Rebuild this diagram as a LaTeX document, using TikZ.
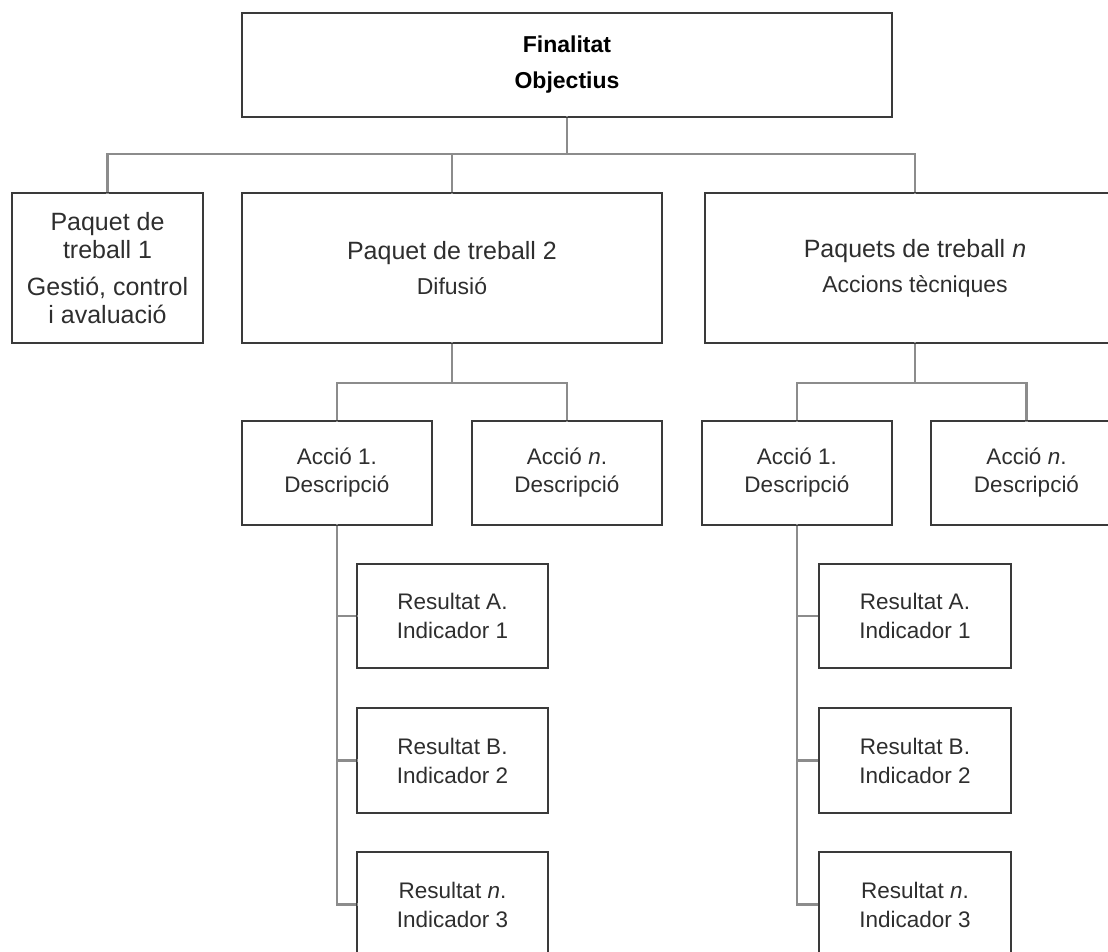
\documentclass[tikz,border=0pt]{standalone}
\usepackage{fontspec}
\setmainfont{Liberation Sans}
\definecolor{linec}{HTML}{8C8C8C}
\definecolor{boxc}{HTML}{3A3A3A}
\definecolor{txtc}{HTML}{2E2E2E}
\begin{document}
\begin{tikzpicture}[x=1pt,y=-1pt,
  box/.style={draw=boxc, line width=1.4pt, rectangle, inner sep=0pt, align=center, text=txtc},
  topbox/.style={box, minimum width=650pt, minimum height=104pt, text=black,
     font=\fontsize{23}{36}\selectfont\bfseries},
  pkbox/.style={box, minimum height=150pt, font=\fontsize{25}{28}\selectfont},
  actbox/.style={box, minimum width=190pt, minimum height=104pt, font=\fontsize{22.5}{28}\selectfont},
  resbox/.style={box, minimum width=191pt, minimum height=104pt, font=\fontsize{22.5}{29}\selectfont},
  conn/.style={draw=linec, line width=2.6pt, line cap=rect, line join=miter}]
\useasboundingbox (0,0) rectangle (1108,952);
\clip (0,0) rectangle (1108,952);

% top
\node[topbox] (top) at (567,65) {Finalitat\\Objectius};

% work packages
\node[pkbox, minimum width=191pt] (pt1) at (107.5,268)
  {Paquet de\\treball 1\\[9pt]Gestió, control\\i avaluació};
\node[pkbox, minimum width=420pt] (pt2) at (452,268)
  {Paquet de treball 2\\[7pt]{\fontsize{23}{28}\selectfont Difusió}};
\node[pkbox, minimum width=420pt] (ptn) at (915,268)
  {Paquets de treball \textit{n}\\[7pt]{\fontsize{23}{28}\selectfont Accions tècniques}};

% actions
\node[actbox] (a1L) at (337,473) {Acció 1.\\Descripció};
\node[actbox] (anL) at (567,473) {Acció \textit{n}.\\Descripció};
\node[actbox] (a1R) at (797,473) {Acció 1.\\Descripció};
\node[actbox] (anR) at (1026.5,473) {Acció \textit{n}.\\Descripció};

% results left
\node[resbox] (rAL) at (452.5,616) {Resultat A.\\Indicador 1};
\node[resbox] (rBL) at (452.5,760.5) {Resultat B.\\Indicador 2};
\node[resbox] (rnL) at (452.5,904.5) {Resultat \textit{n}.\\Indicador 3};
% results right
\node[resbox] (rAR) at (915,616) {Resultat A.\\Indicador 1};
\node[resbox] (rBR) at (915,760.5) {Resultat B.\\Indicador 2};
\node[resbox] (rnR) at (915,904.5) {Resultat \textit{n}.\\Indicador 3};

% connectors level 1
\coordinate (bus1) at (567,154);
\draw[conn] (top.south) -- (bus1);
\draw[conn] (pt1.north) |- (bus1) -| (ptn.north);
\draw[conn] (pt2.north) -- (pt2.north |- bus1);

% connectors level 2
\coordinate (bus2L) at (452,383);
\coordinate (bus2R) at (915,383);
\draw[conn] (pt2.south) -- (bus2L);
\draw[conn] (a1L.north) |- (bus2L) -| (anL.north);
\draw[conn] (ptn.south) -- (bus2R);
\draw[conn] (a1R.north) |- (bus2R) -| (anR.north);

% connectors level 3
\draw[conn] (a1L.south) -- (a1L.south |- rnL.west);
\foreach \r in {rAL,rBL,rnL}{\draw[conn] (\r.west) -- (\r.west -| a1L.south);}
\draw[conn] (a1R.south) -- (a1R.south |- rnR.west);
\foreach \r in {rAR,rBR,rnR}{\draw[conn] (\r.west) -- (\r.west -| a1R.south);}

% redraw box borders above connector ends
\foreach \n in {top,pt1,pt2,ptn,a1L,anL,a1R,anR,rAL,rBL,rnL,rAR,rBR,rnR}{
  \draw[draw=boxc, line width=1.4pt] (\n.north west) rectangle (\n.south east);}
\end{tikzpicture}
\end{document}
